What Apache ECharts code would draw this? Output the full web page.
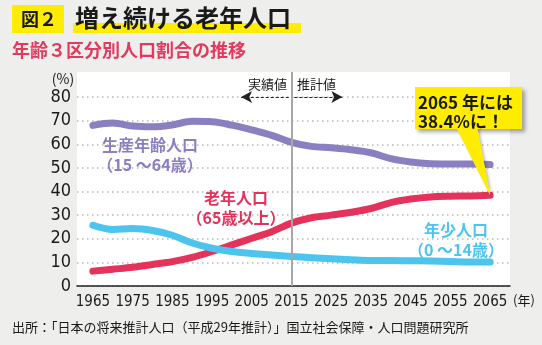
<!DOCTYPE html>
<html>
<head>
<meta charset="utf-8">
<script src="https://cdn.jsdelivr.net/npm/echarts@6/dist/echarts.min.js"></script>
<style>
  html, body { margin: 0; padding: 0; background: #eeeeec; }
  #chart { width: 542px; height: 345px; }
</style>
</head>
<body>
<div id="chart"></div>
<script>
// 年齢3区分別人口割合（%）
const years = [1965, 1970, 1975, 1980, 1985, 1990, 1995, 2000, 2005, 2010, 2015,
               2020, 2025, 2030, 2035, 2040, 2045, 2050, 2055, 2060, 2065];
const working = [68.0, 69.0, 67.7, 67.4, 68.2, 69.7, 69.5, 68.1, 66.1, 63.8, 60.8,
                 59.1, 58.5, 57.7, 56.4, 53.9, 52.5, 51.8, 51.6, 51.6, 51.4];
const elderly = [6.3, 7.1, 7.9, 9.1, 10.3, 12.1, 14.6, 17.4, 20.2, 23.0, 26.6,
                 28.9, 30.0, 31.2, 32.8, 35.3, 36.8, 37.7, 38.0, 38.1, 38.4];
const young = [25.7, 23.9, 24.3, 23.5, 21.5, 18.2, 16.0, 14.6, 13.8, 13.1, 12.5,
               12.0, 11.5, 11.1, 10.8, 10.8, 10.7, 10.6, 10.4, 10.2, 10.2];
const xTicks = [1965, 1975, 1985, 1995, 2005, 2015, 2025, 2035, 2045, 2055, 2065];
const yTicks = [0, 10, 20, 30, 40, 50, 60, 70, 80];
const boundaryYear = 2015;   // 実績値 / 推計値 の境目
const calloutYear = 2065;

const C_WORK = '#8a7fc1';
const C_OLD = '#e4325b';
const C_YOUNG = '#4cc4ee';
const YELLOW = '#ffec00';
const JP = '"Noto Sans CJK JP", "Noto Sans", sans-serif';
const NUM = '"Liberation Sans Narrow", "DejaVu Sans Condensed", "Roboto", sans-serif';

const zip = arr => years.map((y, i) => [y, arr[i]]);
const lineSeries = (name, arr, color) => ({
  name, type: 'line', data: zip(arr), smooth: 0.35, symbol: 'none',
  lineStyle: { color, width: 7, cap: 'round', join: 'round' },
  z: 3
});

const chart = echarts.init(document.getElementById('chart'));

const option = {
  backgroundColor: '#eeeeec',
  animation: false,
  grid: { left: 77, right: 32, top: 72, bottom: 59, show: true, backgroundColor: '#ffffff', borderWidth: 0 },
  xAxis: {
    type: 'value', min: 1961, max: 2070,
    axisLine: { show: true, lineStyle: { color: '#222', width: 1.5 } },
    axisTick: { show: false },
    splitLine: { show: false },
    axisLabel: { customValues: xTicks, color: '#1a1a1a', fontFamily: NUM, fontSize: 15, margin: 9,
                 formatter: v => String(v) }
  },
  yAxis: {
    type: 'value', min: 0, max: 90.6,
    axisLine: { show: false },
    axisTick: { show: false, customValues: yTicks },
    axisLabel: { customValues: yTicks, color: '#1a1a1a', fontFamily: NUM, fontSize: 18, margin: 6,
                 formatter: v => (v > 80 ? '' : String(v)) },
    splitLine: { show: true, lineStyle: { color: '#b8b8b8', type: [1.5, 3.5], width: 1.5 } }
  },
  series: [
    {
      type: 'line', data: [], silent: true,
      markLine: {
        silent: true, symbol: ['none', 'none'], label: { show: false },
        lineStyle: { color: '#a8a8a8', width: 2, type: 'solid' },
        data: [{ xAxis: boundaryYear }]
      },
      z: 2
    },
    {
      type: 'line', data: [], silent: true,
      markLine: {
        silent: true, symbol: ['none', 'arrow'], symbolSize: [9, 11], label: { show: false },
        lineStyle: { color: '#222', width: 1, type: [3, 2] },
        data: [
          [{ coord: [2014.3, 80] }, { coord: [2002.3, 80] }],
          [{ coord: [2015.7, 80] }, { coord: [2027.8, 80] }]
        ]
      },
      z: 4
    },
    lineSeries('生産年齢人口', working, C_WORK),
    lineSeries('老年人口', elderly, C_OLD),
    lineSeries('年少人口', young, C_YOUNG)
  ]
};
chart.setOption(option);

const tip = chart.convertToPixel({ xAxisIndex: 0, yAxisIndex: 0 },
  [calloutYear, elderly[years.indexOf(calloutYear)]]);

const txt = (x, y, text, size, color, align, weight, family) => ({
  type: 'text', x, y, z: 20,
  style: { text, x: 0, y: 0, fill: color, font: `${weight || 'bold'} ${size}px ${family || JP}`,
           textAlign: align || 'left', textVerticalAlign: 'middle' }
});

chart.setOption({
  graphic: [
    // 見出し
    { type: 'rect', shape: { x: 12, y: 5, width: 52, height: 28 }, style: { fill: YELLOW }, z: 10 },
    txt(39, 19, '図２', 18, '#1a1a1a', 'center'),
    { type: 'rect', shape: { x: 73, y: 23, width: 228, height: 10 }, style: { fill: YELLOW }, z: 10 },
    txt(75, 18, '増え続ける老年人口', 24, '#1a1a1a', 'left'),
    txt(12, 50, '年齢３区分別人口割合の推移', 18, '#e23a5e', 'left'),
    // 軸まわり
    txt(63, 79, '(%)', 14, '#1a1a1a', 'center', 'normal'),
    txt(524, 300, '(年)', 13, '#1a1a1a', 'center', 'normal'),
    txt(287, 84, '実績値', 13, '#1a1a1a', 'right', 'normal'),
    txt(297, 84, '推計値', 13, '#1a1a1a', 'left', 'normal'),
    // 系列名
    txt(150, 145, '生産年齢人口', 16, C_WORK, 'center'),
    txt(150, 165, '（15 〜64歳）', 16, C_WORK, 'center'),
    txt(236, 198, '老年人口', 16, C_OLD, 'center'),
    txt(236, 218, '（65歳以上）', 16, C_OLD, 'center'),
    txt(456, 230, '年少人口', 16, C_YOUNG, 'center'),
    txt(456, 250, '（0 〜14歳）', 16, C_YOUNG, 'center'),
    // 吹き出し
    { type: 'rect', shape: { x: 415, y: 87, width: 107, height: 42 },
      style: { fill: YELLOW, shadowBlur: 4, shadowOffsetX: 3, shadowOffsetY: 3, shadowColor: 'rgba(0,0,0,0.35)' }, z: 15 },
    { type: 'polygon', shape: { points: [[456, 127], [477, 127], tip] },
      style: { fill: YELLOW, shadowBlur: 3, shadowOffsetX: 2, shadowOffsetY: 1, shadowColor: 'rgba(0,0,0,0.25)' }, z: 15 },
    { type: 'rect', shape: { x: 415, y: 87, width: 107, height: 42 }, style: { fill: YELLOW }, z: 16 },
    { type: 'polygon', shape: { points: [[456, 126], [477, 126], tip] }, style: { fill: YELLOW }, z: 16 },
    txt(418, 103, '2065 年には', 17, '#1a1a1a', 'left'),
    txt(418, 122, '38.4%に！', 17, '#1a1a1a', 'left'),
    // 出典
    txt(12, 327, '出所：「日本の将来推計人口（平成29年推計）」国立社会保障・人口問題研究所', 13, '#1a1a1a', 'left', 'normal')
  ]
});
</script>
</body>
</html>
